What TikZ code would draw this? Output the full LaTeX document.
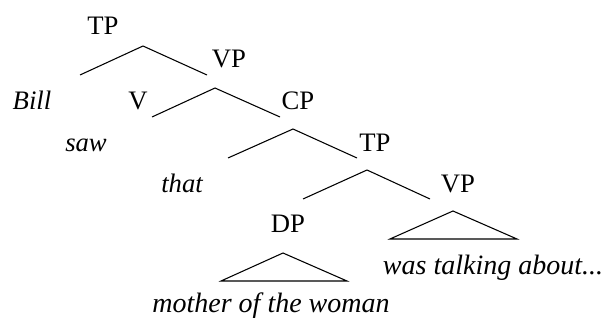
\documentclass[tikz,border=0pt]{standalone}
\usepackage{fontspec}
\setmainfont{Liberation Serif}
\usepackage{tikz}

\tikzset{
  cat/.style={anchor=base, inner sep=0pt, font=\fontsize{20}{24}\selectfont},
  word/.style={cat, font=\fontsize{20}{24}\selectfont\itshape},
  phrase/.style={cat, font=\fontsize{21}{25}\selectfont\itshape},
  branch/.style={line width=0.8pt}
}

\begin{document}
\begin{tikzpicture}[x=0.75pt, y=-0.75pt]
  % Frame
  \useasboundingbox (0, 0) rectangle (611, 320);

  % Labels
  \node[cat] (tp) at(103, 35) {TP};
  \node[cat] (vp) at(229, 68) {VP};
  \node[word] (bill) at(32, 110) {Bill};
  \node[cat] (v) at(138, 110) {V};
  \node[cat] (cp) at(298, 110) {CP};
  \node[word] (saw) at(86, 152) {saw};
  \node[cat] (tpb) at(375, 152) {TP};
  \node[word] (that) at(182, 193) {that};
  \node[cat] (vpb) at(458, 193) {VP};
  \node[cat] (dp) at(288, 233) {DP};
  \node[phrase] (wta) at(493, 275) {was talking about...};
  \node[phrase] (mow) at(271, 313) {mother of the woman};

  % Branch points
  \coordinate (tpTop) at(143, 46);
  \coordinate (tpL) at(80, 75);
  \coordinate (tpR) at(207, 75);
  \coordinate (vpTop) at(215, 88);
  \coordinate (vpL) at(152, 117);
  \coordinate (vpR) at(280, 117);
  \coordinate (cpTop) at(293, 129);
  \coordinate (cpL) at(228, 158);
  \coordinate (cpR) at(357, 158);
  \coordinate (tpbTop) at(367, 170);
  \coordinate (tpbL) at(303, 199);
  \coordinate (tpbR) at(430, 199);
  \coordinate (vpbTop) at(453, 211);
  \coordinate (vpbL) at(390, 239);
  \coordinate (vpbR) at(517, 239);
  \coordinate (dpTop) at(283, 253);
  \coordinate (dpL) at(221, 281);
  \coordinate (dpR) at(347, 281);

  % Branches
  \draw[branch] (tpL) -- (tpTop) -- (tpR);
  \draw[branch] (vpL) -- (vpTop) -- (vpR);
  \draw[branch] (cpL) -- (cpTop) -- (cpR);
  \draw[branch] (tpbL) -- (tpbTop) -- (tpbR);

  % Triangles
  \draw[branch] (vpbL) -- (vpbTop) -- (vpbR) -- cycle;
  \draw[branch] (dpL) -- (dpTop) -- (dpR) -- cycle;
\end{tikzpicture}
\end{document}
